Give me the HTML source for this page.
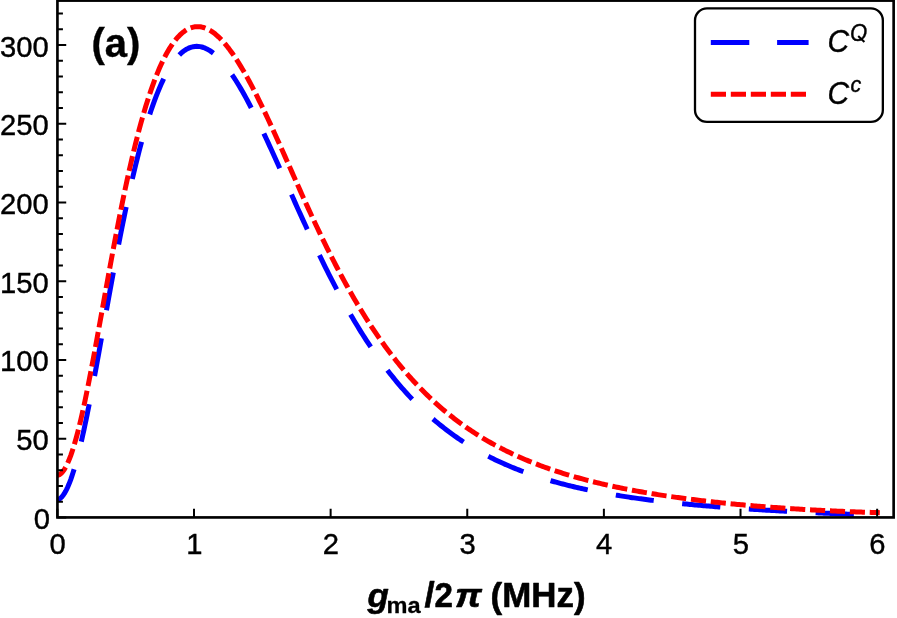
<!DOCTYPE html>
<html><head><meta charset="utf-8"><title>plot</title>
<style>
html,body{margin:0;padding:0;background:#fff;}
body{width:897px;height:618px;overflow:hidden;font-family:"Liberation Sans",sans-serif;}
svg{display:block;will-change:transform;}
text{font-family:"Liberation Sans",sans-serif;fill:#000;}
.tk,.lg{stroke:#000;stroke-width:0.4px;}
.tk{font-size:29.2px;}
.b{font-weight:bold;}
.i{font-style:italic;}
</style></head><body>
<svg width="897" height="618" viewBox="0 0 897 618">
<rect x="0" y="0" width="897" height="618" fill="#fff"/>

<clipPath id="cp"><rect x="57.43" y="0.60" width="836.21" height="516.83"/></clipPath>
<g fill="none" stroke-linecap="butt" stroke-linejoin="round" clip-path="url(#cp)">
<path d="M57.40 499.79 L58.42 499.47 L59.45 498.93 L60.47 498.19 L61.50 497.24 L62.52 496.08 L63.55 494.72 L64.57 493.15 L65.60 491.37 L66.62 489.40 L67.64 487.23 L68.67 484.87 L69.69 482.32 L70.72 479.58 L71.74 476.67 L72.77 473.57 L73.79 470.30 L74.82 466.87 L75.84 463.27 L76.87 459.52 L77.89 455.62 L78.91 451.57 L79.94 447.38 L80.96 443.06 L81.99 438.61 L83.01 434.04 L84.04 429.36 L85.06 424.57 L86.09 419.67 L87.11 414.68 L88.13 409.61 L89.16 404.44 L90.18 399.20 L91.21 393.89 L92.23 388.52 L93.26 383.08 L94.28 377.60 L95.31 372.06 L96.33 366.49 L97.36 360.88 L98.38 355.23 L100.08 345.85 L101.77 336.41 L103.47 326.95 L105.16 317.49 L106.86 308.05 L108.55 298.65 L110.25 289.31 L111.94 280.04 L113.64 270.85 L115.33 261.78 L117.03 252.82 L118.72 243.99 L120.42 235.31 L122.11 226.78 L123.81 218.40 L125.50 210.20 L127.20 202.18 L128.89 194.34 L130.59 186.68 L132.28 179.22 L133.98 171.96 L135.67 164.91 L137.37 158.05 L139.06 151.41 L140.76 144.97 L142.45 138.75 L144.15 132.74 L145.84 126.94 L147.54 121.36 L149.23 115.99 L150.93 110.83 L152.62 105.88 L154.32 101.15 L156.01 96.63 L157.71 92.31 L159.40 88.21 L161.10 84.31 L162.79 80.62 L164.49 77.13 L166.18 73.84 L167.88 70.75 L169.57 67.86 L171.27 65.16 L172.96 62.65 L174.66 60.34 L176.35 58.21 L178.05 56.26 L179.74 54.50 L181.44 52.92 L183.13 51.52 L184.83 50.29 L186.52 49.24 L188.22 48.35 L189.91 47.63 L191.61 47.07 L193.30 46.68 L195.00 46.44 L196.69 46.35 L198.39 46.42 L200.08 46.64 L201.78 47.01 L203.47 47.51 L205.17 48.16 L206.86 48.95 L208.56 49.86 L210.25 50.91 L211.95 52.09 L213.64 53.39 L215.34 54.82 L217.03 56.36 L218.73 58.02 L220.42 59.79 L222.12 61.67 L223.81 63.66 L225.51 65.74 L227.20 67.93 L228.90 70.22 L230.59 72.59 L232.29 75.06 L233.98 77.62 L235.68 80.25 L237.37 82.97 L239.07 85.77 L240.76 88.64 L242.46 91.58 L244.15 94.59 L245.85 97.66 L247.54 100.80 L249.24 103.99 L250.93 107.24 L252.63 110.55 L254.33 113.90 L256.02 117.30 L257.72 120.74 L259.41 124.23 L261.11 127.75 L262.80 131.31 L264.50 134.90 L266.19 138.53 L267.89 142.17 L269.58 145.85 L271.28 149.55 L272.97 153.26 L274.67 157.00 L276.36 160.75 L278.06 164.51 L279.75 168.28 L281.45 172.07 L283.14 175.85 L284.84 179.65 L286.53 183.44 L288.23 187.24 L289.92 191.03 L291.62 194.82 L293.31 198.60 L295.01 202.38 L296.70 206.15 L298.40 209.91 L300.09 213.65 L301.79 217.38 L303.48 221.10 L305.18 224.80 L306.87 228.49 L308.57 232.16 L310.26 235.80 L311.96 239.43 L313.65 243.03 L315.35 246.61 L317.04 250.16 L318.74 253.69 L320.43 257.20 L322.13 260.68 L323.82 264.13 L325.52 267.55 L327.21 270.94 L328.91 274.31 L330.60 277.64 L332.30 280.94 L333.99 284.21 L335.69 287.45 L337.38 290.66 L339.08 293.84 L340.77 296.98 L342.47 300.09 L344.16 303.17 L345.86 306.21 L347.55 309.22 L349.25 312.20 L350.94 315.14 L352.64 318.05 L354.33 320.92 L356.03 323.76 L357.72 326.56 L359.42 329.33 L361.11 332.07 L362.81 334.77 L364.50 337.44 L366.20 340.07 L367.89 342.67 L369.59 345.24 L371.28 347.77 L372.98 350.26 L374.67 352.73 L376.37 355.16 L378.06 357.56 L379.76 359.92 L381.45 362.25 L383.15 364.55 L384.84 366.82 L386.54 369.05 L388.23 371.26 L389.93 373.43 L391.62 375.57 L393.32 377.68 L395.01 379.76 L396.71 381.81 L398.40 383.83 L400.10 385.82 L401.79 387.78 L403.49 389.71 L405.18 391.61 L406.88 393.48 L408.58 395.33 L410.27 397.15 L411.97 398.94 L413.66 400.70 L415.36 402.43 L417.05 404.14 L418.75 405.83 L420.44 407.48 L422.14 409.12 L423.83 410.72 L425.53 412.31 L427.22 413.86 L428.92 415.40 L430.61 416.91 L432.31 418.39 L434.00 419.85 L435.70 421.29 L437.39 422.71 L439.09 424.11 L440.78 425.48 L442.48 426.83 L444.17 428.16 L445.87 429.47 L447.56 430.76 L449.26 432.03 L450.95 433.28 L452.65 434.51 L454.34 435.72 L456.04 436.91 L457.73 438.08 L459.43 439.23 L461.12 440.37 L462.82 441.49 L464.51 442.58 L466.21 443.67 L467.90 444.73 L469.60 445.78 L471.29 446.81 L472.99 447.83 L474.68 448.82 L476.38 449.81 L478.07 450.78 L479.77 451.73 L481.46 452.66 L483.16 453.59 L484.85 454.50 L486.55 455.39 L488.24 456.27 L489.94 457.13 L491.63 457.99 L493.33 458.82 L495.02 459.65 L496.72 460.46 L498.41 461.26 L500.11 462.05 L501.80 462.82 L503.50 463.59 L505.19 464.34 L506.89 465.08 L508.58 465.80 L510.28 466.52 L511.97 467.22 L513.67 467.92 L515.36 468.60 L517.06 469.27 L518.75 469.94 L520.45 470.59 L522.14 471.23 L523.84 471.86 L525.53 472.48 L527.23 473.10 L528.92 473.70 L530.62 474.29 L532.31 474.88 L534.01 475.45 L535.70 476.02 L537.40 476.58 L539.09 477.13 L540.79 477.67 L542.48 478.20 L544.18 478.73 L545.87 479.25 L547.57 479.76 L549.26 480.26 L550.96 480.75 L552.65 481.24 L554.35 481.72 L556.04 482.19 L557.74 482.66 L559.43 483.11 L561.13 483.57 L562.83 484.01 L564.52 484.45 L566.22 484.88 L567.91 485.31 L569.61 485.73 L571.30 486.14 L573.00 486.54 L574.69 486.95 L576.39 487.34 L578.08 487.73 L579.78 488.11 L581.47 488.49 L583.17 488.86 L584.86 489.23 L586.56 489.59 L588.25 489.95 L589.95 490.30 L591.64 490.65 L593.34 490.99 L595.03 491.33 L596.73 491.66 L598.42 491.99 L600.12 492.31 L601.81 492.63 L603.51 492.94 L605.20 493.25 L606.90 493.55 L608.59 493.85 L610.29 494.15 L611.98 494.44 L613.68 494.73 L615.37 495.02 L617.07 495.30 L618.76 495.57 L620.46 495.85 L622.15 496.11 L623.85 496.38 L625.54 496.64 L627.24 496.90 L628.93 497.15 L630.63 497.41 L632.32 497.65 L634.02 497.90 L635.71 498.14 L637.41 498.38 L639.10 498.61 L640.80 498.85 L642.49 499.07 L644.19 499.30 L645.88 499.52 L647.58 499.74 L649.27 499.96 L650.97 500.17 L652.66 500.39 L654.36 500.60 L656.05 500.80 L657.75 501.01 L659.44 501.21 L661.14 501.40 L662.83 501.60 L664.53 501.79 L666.22 501.99 L667.92 502.17 L669.61 502.36 L671.31 502.54 L673.00 502.73 L674.70 502.91 L676.39 503.08 L678.09 503.26 L679.78 503.43 L681.48 503.60 L683.17 503.77 L684.87 503.94 L686.56 504.10 L688.26 504.27 L689.95 504.43 L691.65 504.59 L693.34 504.75 L695.04 504.90 L696.73 505.06 L698.43 505.21 L700.12 505.36 L701.82 505.51 L703.51 505.65 L705.21 505.80 L706.90 505.94 L708.60 506.08 L710.29 506.23 L711.99 506.36 L713.68 506.50 L715.38 506.64 L717.08 506.77 L718.77 506.91 L720.47 507.04 L722.16 507.17 L723.86 507.30 L725.55 507.42 L727.25 507.55 L728.94 507.67 L730.64 507.80 L732.33 507.92 L734.03 508.04 L735.72 508.16 L737.42 508.28 L739.11 508.40 L740.81 508.51 L742.50 508.63 L744.20 508.74 L745.89 508.86 L747.59 508.97 L749.28 509.08 L750.98 509.19 L752.67 509.30 L754.37 509.40 L756.06 509.51 L757.76 509.62 L759.45 509.72 L761.15 509.82 L762.84 509.93 L764.54 510.03 L766.23 510.13 L767.93 510.23 L769.62 510.33 L771.32 510.43 L773.01 510.53 L774.71 510.62 L776.40 510.72 L778.10 510.81 L779.79 510.91 L781.49 511.00 L783.18 511.09 L784.88 511.19 L786.57 511.28 L788.27 511.37 L789.96 511.46 L791.66 511.55 L793.35 511.64 L795.05 511.72 L796.74 511.81 L798.44 511.90 L800.13 511.98 L801.83 512.07 L803.52 512.15 L805.22 512.24 L806.91 512.32 L808.61 512.40 L810.30 512.49 L812.00 512.57 L813.69 512.65 L815.39 512.73 L817.08 512.81 L818.78 512.89 L820.47 512.97 L822.17 513.05 L823.86 513.13 L825.56 513.21 L827.25 513.28 L828.95 513.36 L830.64 513.44 L832.34 513.51 L834.03 513.59 L835.73 513.66 L837.42 513.74 L839.12 513.81 L840.81 513.89 L842.51 513.96 L844.20 514.03 L845.90 514.11 L847.59 514.18 L849.29 514.25 L850.98 514.32 L852.68 514.39 L854.37 514.46 L856.07 514.53 L857.76 514.61 L859.46 514.68 L861.15 514.75 L862.85 514.81 L864.54 514.88 L866.24 514.95 L867.93 515.02 L869.63 515.09 L871.33 515.16 L873.02 515.23 L874.72 515.29 L876.41 515.36 L878.11 515.43 L879.80 515.50" stroke="#0000ff" stroke-width="5.00" stroke-dasharray="38.3 28.6" stroke-dashoffset="2.55"/>
<path d="M57.40 475.34 L58.42 475.08 L59.45 474.61 L60.47 473.92 L61.50 473.01 L62.52 471.89 L63.55 470.56 L64.57 469.02 L65.60 467.28 L66.62 465.33 L67.64 463.18 L68.67 460.83 L69.69 458.29 L70.72 455.56 L71.74 452.65 L72.77 449.55 L73.79 446.28 L74.82 442.84 L75.84 439.24 L76.87 435.48 L77.89 431.57 L78.91 427.51 L79.94 423.31 L80.96 418.97 L81.99 414.51 L83.01 409.93 L84.04 405.23 L85.06 400.42 L86.09 395.52 L87.11 390.51 L88.13 385.42 L89.16 380.25 L90.18 375.00 L91.21 369.68 L92.23 364.30 L93.26 358.86 L94.28 353.37 L95.31 347.84 L96.33 342.27 L97.36 336.66 L98.38 331.03 L100.08 321.67 L101.77 312.27 L103.47 302.86 L105.16 293.46 L106.86 284.09 L108.55 274.76 L110.25 265.51 L111.94 256.33 L113.64 247.26 L115.33 238.29 L117.03 229.46 L118.72 220.75 L120.42 212.20 L122.11 203.80 L123.81 195.57 L125.50 187.52 L127.20 179.64 L128.89 171.95 L130.59 164.45 L132.28 157.14 L133.98 150.04 L135.67 143.13 L137.37 136.43 L139.06 129.94 L140.76 123.66 L142.45 117.59 L144.15 111.72 L145.84 106.07 L147.54 100.63 L149.23 95.39 L150.93 90.37 L152.62 85.55 L154.32 80.94 L156.01 76.53 L157.71 72.33 L159.40 68.32 L161.10 64.52 L162.79 60.91 L164.49 57.49 L166.18 54.27 L167.88 51.24 L169.57 48.40 L171.27 45.74 L172.96 43.27 L174.66 40.98 L176.35 38.87 L178.05 36.93 L179.74 35.17 L181.44 33.59 L183.13 32.17 L184.83 30.92 L186.52 29.84 L188.22 28.92 L189.91 28.15 L191.61 27.55 L193.30 27.10 L195.00 26.80 L196.69 26.65 L198.39 26.65 L200.08 26.79 L201.78 27.07 L203.47 27.49 L205.17 28.05 L206.86 28.74 L208.56 29.57 L210.25 30.51 L211.95 31.59 L213.64 32.79 L215.34 34.10 L217.03 35.54 L218.73 37.09 L220.42 38.75 L222.12 40.52 L223.81 42.40 L225.51 44.38 L227.20 46.46 L228.90 48.63 L230.59 50.90 L232.29 53.27 L233.98 55.72 L235.68 58.25 L237.37 60.87 L239.07 63.57 L240.76 66.34 L242.46 69.18 L244.15 72.10 L245.85 75.08 L247.54 78.13 L249.24 81.24 L250.93 84.41 L252.63 87.64 L254.33 90.91 L256.02 94.24 L257.72 97.62 L259.41 101.04 L261.11 104.51 L262.80 108.01 L264.50 111.55 L266.19 115.13 L267.89 118.74 L269.58 122.38 L271.28 126.05 L272.97 129.75 L274.67 133.46 L276.36 137.20 L278.06 140.96 L279.75 144.73 L281.45 148.52 L283.14 152.32 L284.84 156.12 L286.53 159.93 L288.23 163.75 L289.92 167.57 L291.62 171.38 L293.31 175.20 L295.01 179.01 L296.70 182.81 L298.40 186.60 L300.09 190.39 L301.79 194.16 L303.48 197.92 L305.18 201.66 L306.87 205.39 L308.57 209.09 L310.26 212.78 L311.96 216.44 L313.65 220.08 L315.35 223.70 L317.04 227.29 L318.74 230.86 L320.43 234.40 L322.13 237.92 L323.82 241.40 L325.52 244.86 L327.21 248.29 L328.91 251.70 L330.60 255.07 L332.30 258.41 L333.99 261.72 L335.69 265.00 L337.38 268.25 L339.08 271.47 L340.77 274.65 L342.47 277.80 L344.16 280.92 L345.86 284.01 L347.55 287.07 L349.25 290.09 L350.94 293.08 L352.64 296.03 L354.33 298.95 L356.03 301.84 L357.72 304.70 L359.42 307.52 L361.11 310.31 L362.81 313.06 L364.50 315.78 L366.20 318.47 L367.89 321.13 L369.59 323.75 L371.28 326.34 L372.98 328.90 L374.67 331.43 L376.37 333.92 L378.06 336.39 L379.76 338.82 L381.45 341.22 L383.15 343.58 L384.84 345.92 L386.54 348.23 L388.23 350.50 L389.93 352.75 L391.62 354.97 L393.32 357.15 L395.01 359.31 L396.71 361.44 L398.40 363.54 L400.10 365.62 L401.79 367.66 L403.49 369.68 L405.18 371.67 L406.88 373.63 L408.58 375.57 L410.27 377.47 L411.97 379.36 L413.66 381.21 L415.36 383.04 L417.05 384.85 L418.75 386.63 L420.44 388.38 L422.14 390.11 L423.83 391.82 L425.53 393.50 L427.22 395.15 L428.92 396.79 L430.61 398.40 L432.31 399.99 L434.00 401.55 L435.70 403.09 L437.39 404.61 L439.09 406.11 L440.78 407.59 L442.48 409.04 L444.17 410.48 L445.87 411.89 L447.56 413.28 L449.26 414.65 L450.95 416.01 L452.65 417.34 L454.34 418.66 L456.04 419.95 L457.73 421.23 L459.43 422.48 L461.12 423.72 L462.82 424.95 L464.51 426.15 L466.21 427.34 L467.90 428.51 L469.60 429.66 L471.29 430.79 L472.99 431.91 L474.68 433.02 L476.38 434.10 L478.07 435.17 L479.77 436.23 L481.46 437.27 L483.16 438.30 L484.85 439.31 L486.55 440.30 L488.24 441.29 L489.94 442.25 L491.63 443.21 L493.33 444.15 L495.02 445.08 L496.72 445.99 L498.41 446.89 L500.11 447.78 L501.80 448.65 L503.50 449.52 L505.19 450.37 L506.89 451.21 L508.58 452.04 L510.28 452.85 L511.97 453.66 L513.67 454.45 L515.36 455.23 L517.06 456.00 L518.75 456.76 L520.45 457.51 L522.14 458.25 L523.84 458.98 L525.53 459.70 L527.23 460.41 L528.92 461.11 L530.62 461.80 L532.31 462.48 L534.01 463.15 L535.70 463.81 L537.40 464.46 L539.09 465.11 L540.79 465.74 L542.48 466.37 L544.18 466.99 L545.87 467.60 L547.57 468.20 L549.26 468.80 L550.96 469.38 L552.65 469.96 L554.35 470.53 L556.04 471.09 L557.74 471.65 L559.43 472.20 L561.13 472.74 L562.83 473.27 L564.52 473.80 L566.22 474.32 L567.91 474.83 L569.61 475.34 L571.30 475.84 L573.00 476.33 L574.69 476.82 L576.39 477.30 L578.08 477.77 L579.78 478.24 L581.47 478.71 L583.17 479.16 L584.86 479.61 L586.56 480.06 L588.25 480.50 L589.95 480.93 L591.64 481.36 L593.34 481.79 L595.03 482.20 L596.73 482.62 L598.42 483.02 L600.12 483.43 L601.81 483.82 L603.51 484.22 L605.20 484.61 L606.90 484.99 L608.59 485.37 L610.29 485.74 L611.98 486.11 L613.68 486.48 L615.37 486.84 L617.07 487.19 L618.76 487.55 L620.46 487.89 L622.15 488.24 L623.85 488.58 L625.54 488.91 L627.24 489.24 L628.93 489.57 L630.63 489.90 L632.32 490.22 L634.02 490.53 L635.71 490.85 L637.41 491.15 L639.10 491.46 L640.80 491.76 L642.49 492.06 L644.19 492.36 L645.88 492.65 L647.58 492.93 L649.27 493.22 L650.97 493.50 L652.66 493.78 L654.36 494.06 L656.05 494.33 L657.75 494.60 L659.44 494.86 L661.14 495.13 L662.83 495.39 L664.53 495.64 L666.22 495.90 L667.92 496.15 L669.61 496.40 L671.31 496.64 L673.00 496.89 L674.70 497.13 L676.39 497.36 L678.09 497.60 L679.78 497.83 L681.48 498.06 L683.17 498.29 L684.87 498.51 L686.56 498.74 L688.26 498.96 L689.95 499.17 L691.65 499.39 L693.34 499.60 L695.04 499.81 L696.73 500.02 L698.43 500.23 L700.12 500.43 L701.82 500.63 L703.51 500.83 L705.21 501.03 L706.90 501.22 L708.60 501.42 L710.29 501.61 L711.99 501.79 L713.68 501.98 L715.38 502.17 L717.08 502.35 L718.77 502.53 L720.47 502.71 L722.16 502.88 L723.86 503.06 L725.55 503.23 L727.25 503.40 L728.94 503.57 L730.64 503.74 L732.33 503.90 L734.03 504.07 L735.72 504.23 L737.42 504.39 L739.11 504.55 L740.81 504.70 L742.50 504.86 L744.20 505.01 L745.89 505.16 L747.59 505.31 L749.28 505.46 L750.98 505.61 L752.67 505.75 L754.37 505.90 L756.06 506.04 L757.76 506.18 L759.45 506.32 L761.15 506.45 L762.84 506.59 L764.54 506.72 L766.23 506.85 L767.93 506.98 L769.62 507.11 L771.32 507.24 L773.01 507.37 L774.71 507.49 L776.40 507.61 L778.10 507.74 L779.79 507.86 L781.49 507.98 L783.18 508.09 L784.88 508.21 L786.57 508.32 L788.27 508.44 L789.96 508.55 L791.66 508.66 L793.35 508.77 L795.05 508.88 L796.74 508.98 L798.44 509.09 L800.13 509.19 L801.83 509.29 L803.52 509.39 L805.22 509.49 L806.91 509.59 L808.61 509.69 L810.30 509.79 L812.00 509.88 L813.69 509.97 L815.39 510.07 L817.08 510.16 L818.78 510.25 L820.47 510.33 L822.17 510.42 L823.86 510.51 L825.56 510.59 L827.25 510.67 L828.95 510.76 L830.64 510.84 L832.34 510.92 L834.03 510.99 L835.73 511.07 L837.42 511.15 L839.12 511.22 L840.81 511.30 L842.51 511.37 L844.20 511.44 L845.90 511.51 L847.59 511.58 L849.29 511.64 L850.98 511.71 L852.68 511.78 L854.37 511.84 L856.07 511.90 L857.76 511.96 L859.46 512.03 L861.15 512.08 L862.85 512.14 L864.54 512.20 L866.24 512.26 L867.93 512.31 L869.63 512.36 L871.33 512.42 L873.02 512.47 L874.72 512.52 L876.41 512.57 L878.11 512.61 L879.80 512.66" stroke="#ff0000" stroke-width="5.00" stroke-dasharray="15.15 4.77" stroke-dashoffset="3.3"/>
</g>
<g stroke="#000" fill="none">
<rect x="57.43" y="0.60" width="836.21" height="516.83" stroke-width="2.65"/>
<path d="M57.43 517.43h8.8M57.43 501.69h5.5M57.43 485.94h5.5M57.43 470.20h5.5M57.43 454.45h5.5M57.43 438.71h8.8M57.43 422.97h5.5M57.43 407.22h5.5M57.43 391.48h5.5M57.43 375.73h5.5M57.43 359.99h8.8M57.43 344.25h5.5M57.43 328.50h5.5M57.43 312.76h5.5M57.43 297.01h5.5M57.43 281.27h8.8M57.43 265.53h5.5M57.43 249.78h5.5M57.43 234.04h5.5M57.43 218.29h5.5M57.43 202.55h8.8M57.43 186.81h5.5M57.43 171.06h5.5M57.43 155.32h5.5M57.43 139.57h5.5M57.43 123.83h8.8M57.43 108.09h5.5M57.43 92.34h5.5M57.43 76.60h5.5M57.43 60.85h5.5M57.43 45.11h8.8M57.43 29.37h5.5M57.43 13.62h5.5M57.37 517.43v-8.8M194.00 517.43v-8.8M330.63 517.43v-8.8M467.26 517.43v-8.8M603.89 517.43v-8.8M740.52 517.43v-8.8M877.15 517.43v-8.8" stroke-width="2.0"/>
</g>
<text transform="translate(50.10 528.83) scale(1.000 1.030)" class="tk" text-anchor="end">0</text>
<text transform="translate(48.70 450.11) scale(1.000 1.030)" class="tk" text-anchor="end">50</text>
<text transform="translate(48.70 371.39) scale(1.000 1.030)" class="tk" text-anchor="end">100</text>
<text transform="translate(48.70 292.67) scale(1.000 1.030)" class="tk" text-anchor="end">150</text>
<text transform="translate(48.70 213.95) scale(1.000 1.030)" class="tk" text-anchor="end">200</text>
<text transform="translate(48.70 135.23) scale(1.000 1.030)" class="tk" text-anchor="end">250</text>
<text transform="translate(48.70 56.51) scale(1.000 1.030)" class="tk" text-anchor="end">300</text>
<text transform="translate(57.67 554.30) scale(1.000 1.030)" class="tk" text-anchor="middle">0</text>
<text transform="translate(194.30 554.30) scale(1.000 1.030)" class="tk" text-anchor="middle">1</text>
<text transform="translate(330.93 554.30) scale(1.000 1.030)" class="tk" text-anchor="middle">2</text>
<text transform="translate(467.56 554.30) scale(1.000 1.030)" class="tk" text-anchor="middle">3</text>
<text transform="translate(604.19 554.30) scale(1.000 1.030)" class="tk" text-anchor="middle">4</text>
<text transform="translate(740.82 554.30) scale(1.000 1.030)" class="tk" text-anchor="middle">5</text>
<text transform="translate(877.45 554.30) scale(1.000 1.030)" class="tk" text-anchor="middle">6</text>
<text transform="translate(91.50 57.20) scale(1.000 1.000)" class="b" font-size="40" stroke="#000" stroke-width="0.4">(a)</text>
<text transform="translate(367.60 607.20) scale(1.000 0.955)" class="b i" font-size="34.9" stroke="#000" stroke-width="0.6" stroke-linejoin="round">g</text>
<text transform="translate(386.60 612.50) scale(1.000 0.955)" class="b" font-size="23.6" stroke="#000" stroke-width="0.3">ma</text>
<text transform="translate(424.60 607.20) scale(1.050 0.985)" class="b" font-size="34.9" stroke="#000" stroke-width="0.6" stroke-linejoin="round">/</text>
<text transform="translate(434.60 607.20) scale(0.950 1.015)" class="b" font-size="34.9" stroke="#000" stroke-width="0.6" stroke-linejoin="round">2</text>
<text transform="translate(455.00 607.20) scale(1.080 0.955)" class="b i" font-size="34.9" stroke="#000" stroke-width="0.6" stroke-linejoin="round">π</text>
<text transform="translate(490.50 608.20) scale(1.000 1.015)" class="b" font-size="34.9" stroke="#000" stroke-width="0.6" stroke-linejoin="round">(</text>
<text transform="translate(502.20 607.20) scale(1.000 1.015)" class="b" font-size="34.9" stroke="#000" stroke-width="0.6" stroke-linejoin="round">MHz</text>
<text transform="translate(573.90 608.20) scale(1.000 1.015)" class="b" font-size="34.9" stroke="#000" stroke-width="0.6" stroke-linejoin="round">)</text>
<rect x="695" y="8.4" width="187.85" height="113.5" rx="12" ry="12" fill="#fff" stroke="#000" stroke-width="2.3"/>
<path d="M710.8 42.4H808.6" stroke="#0000ff" stroke-width="5.00" stroke-dasharray="38.5 27.8" fill="none"/>
<path d="M710.8 94.3H806" stroke="#ff0000" stroke-width="5.00" stroke-dasharray="15.2 4.8" fill="none"/>
<text transform="translate(827.50 52.30) scale(1.000 1.030)" class="i lg" font-size="29.9">C</text>
<text transform="translate(850.10 40.60) scale(1.000 1.100)" class="i lg" font-size="22">O</text>
<path d="M858.2 36.0L864.4 41.9" stroke="#000" stroke-width="2.1" fill="none"/>
<text transform="translate(827.50 104.20) scale(1.000 1.030)" class="i lg" font-size="29.9">C</text>
<text transform="translate(850.50 92.00) scale(1.000 1.000)" class="i lg" font-size="21.5">c</text>
</svg></body></html>
